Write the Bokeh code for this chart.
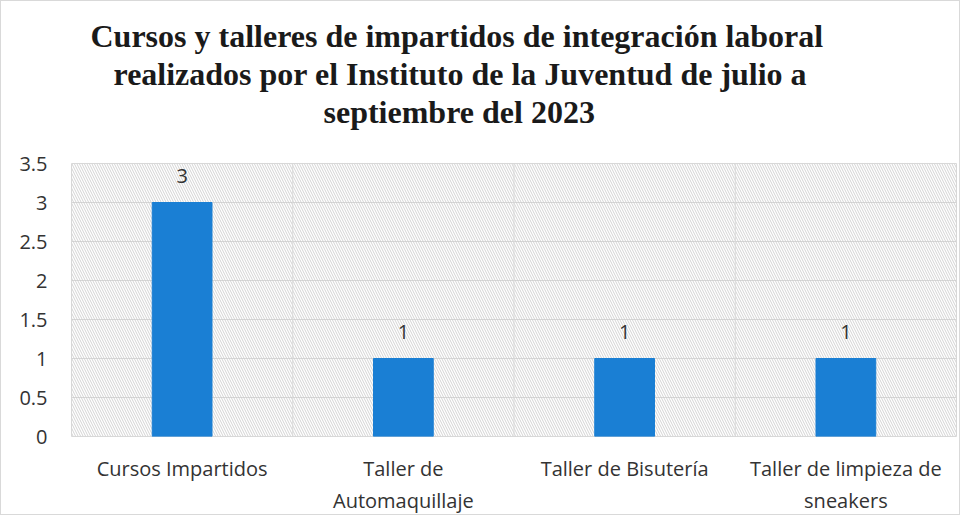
from bokeh.plotting import figure
from bokeh.models import BoxAnnotation, Span, Title, ColumnDataSource, LabelSet
from bokeh.core.properties import value
from bokeh.embed import file_html
from bokeh.resources import INLINE

categories = ["Cursos Impartidos", "Taller de\nAutomaquillaje", "Taller de Bisutería", "Taller de limpieza de\nsneakers"]
values = [3, 1, 1, 1]
title_lines = ["Cursos y talleres de impartidos de integración laboral",
               "realizados por el Instituto de la Juventud de julio a",
               "septiembre del 2023"]

src = ColumnDataSource(dict(x=categories, top=values, lbl=[str(v) for v in values]))

p = figure(x_range=categories, y_range=(0, 3.5), width=960, height=515,
           output_backend="svg", toolbar_location=None,
           min_border_left=70, min_border_right=5, min_border_top=162, min_border_bottom=78)
p.background_fill_color = "white"
p.border_fill_color = "white"
p.outline_line_color = "#d9d9d9"

hatch = BoxAnnotation(fill_alpha=0, line_alpha=0, hatch_pattern="\\", hatch_color="#c8c8c8",
                      hatch_scale=5, hatch_weight=0.8, level="underlay")
p.add_layout(hatch)

p.vbar(x="x", top="top", width=0.27, source=src, color="#1a7fd4")

p.add_layout(LabelSet(x="x", y="top", text="lbl", source=src, y_offset=20, text_align="center",
                      text_font=value("Open Sans"), text_font_size="20px", text_color="#333333"))

for b in [1, 2, 3]:
    p.add_layout(Span(location=b, dimension="height", line_color="#d9d9d9", line_width=1))

p.xgrid.visible = False
p.ygrid.grid_line_color = "#d9d9d9"
p.yaxis.ticker = [0, 0.5, 1, 1.5, 2, 2.5, 3, 3.5]
for ax in (p.xaxis[0], p.yaxis[0]):
    ax.axis_line_color = None
    ax.major_tick_line_color = None
    ax.minor_tick_line_color = None
    ax.major_label_text_font = "Open Sans"
    ax.major_label_text_color = "#333333"
p.xaxis.major_label_text_font_size = "20px"
p.yaxis.major_label_text_font_size = "20px"
p.xaxis.major_label_standoff = 12
p.yaxis.major_label_standoff = 18

# spacer between the title block and the plot area
p.add_layout(Title(text=" ", text_font_size="20px", standoff=10), "above")

offsets = [19, 42, 252]
# add nearest-to-plot line first
for t, off in reversed(list(zip(title_lines, offsets))):
    p.add_layout(Title(text=t, align="left", offset=off, standoff=0,
                       text_font="Liberation Serif", text_font_style="bold",
                       text_font_size="32px", text_color="#1a1a1a"), "above")

p.styles = {"border": "1px solid #d9d9d9"}

open("out.html", "w").write(file_html(p, INLINE))
